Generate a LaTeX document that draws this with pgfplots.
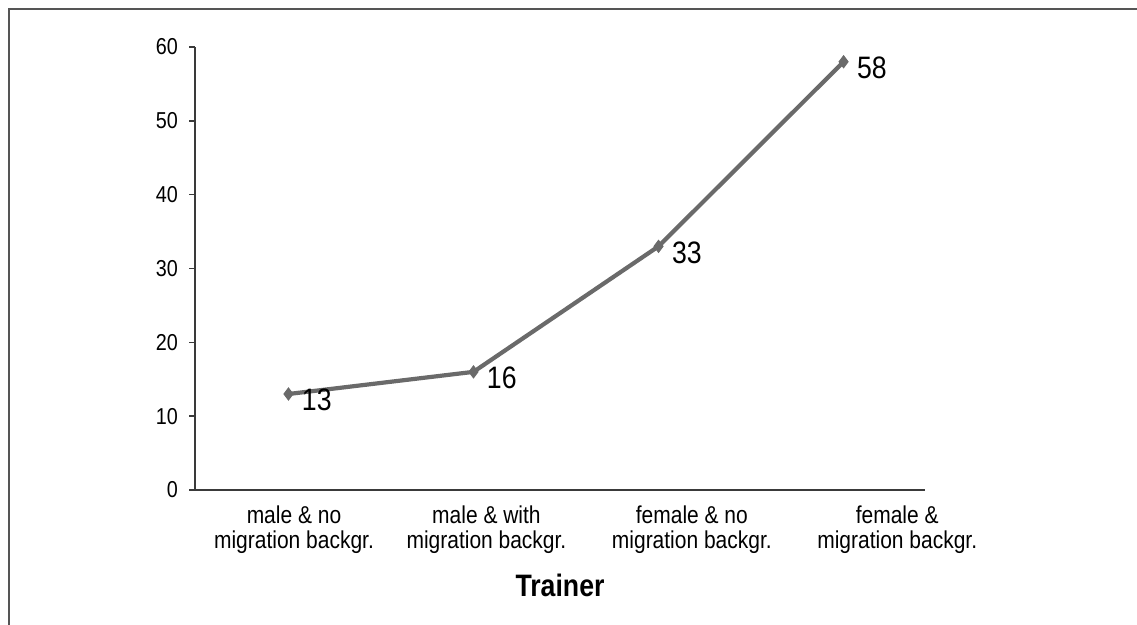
\documentclass[border=0pt]{standalone}
\usepackage{fontspec}
\setmainfont{Liberation Sans}[FakeStretch=0.86]
\usepackage{pgfplots}
\pgfplotsset{compat=1.18}
\definecolor{lineg}{HTML}{6A6A6A}
\definecolor{axg}{HTML}{3A3A3A}
\definecolor{frameg}{HTML}{555555}
\begin{document}
\begin{tikzpicture}
% page: 1137 x 625 px, 1 px = 0.5pt
\useasboundingbox (0pt,0pt) rectangle (568.5pt,312.5pt);
\draw[frameg, line width=1pt] (4.5pt,0pt) -- (4.5pt,308pt) -- (568.5pt,308pt);
\begin{axis}[
    at={(97.5pt,67.5pt)}, anchor=south west,
    scale only axis,
    width=365pt, height=221.5pt,
    xmin=-0.505, xmax=3.44,
    ymin=0, ymax=60,
    axis lines=left,
    axis line style={-, axg, line width=0.7pt},
    ytick={0,10,...,60},
    xtick={0.03,1.07,2.18,3.29},
    xticklabels={male \& no\\migration backgr.,
                 male \& with\\migration backgr.,
                 female \& no\\migration backgr.,
                 female \&\\migration backgr.},
    x tick style={draw=none},
    y tick style={axg, line width=0.7pt},
    tick align=outside,
    major tick length=3pt,
    /pgf/number format/assume math mode=true,
    yticklabel style={font=\fontsize{11.5}{13}\selectfont, xshift=-2pt},
    xticklabel style={font=\fontsize{12.2}{12.6}\selectfont, align=center, yshift=-1.5pt},
    xlabel={\textbf{Trainer}},
    xlabel style={font=\fontsize{15.5}{18}\selectfont, at={(axis description cs:0.5,0)}, anchor=center, yshift=-47.5pt},
    clip=false,
]
\addplot[
    color=lineg, line width=2.1pt,
    mark=diamond*, mark size=3pt, mark options={fill=lineg, draw=lineg, line width=0.5pt},
    nodes near coords,
    nodes near coords style={font=\fontsize{15.5}{18}\selectfont, anchor=west, inner sep=0pt, xshift=6.5pt, yshift=-3pt, text=black},
] coordinates {
    (0,13) (1,16) (2,33) (3,58)
};
\end{axis}
\end{tikzpicture}
\end{document}
